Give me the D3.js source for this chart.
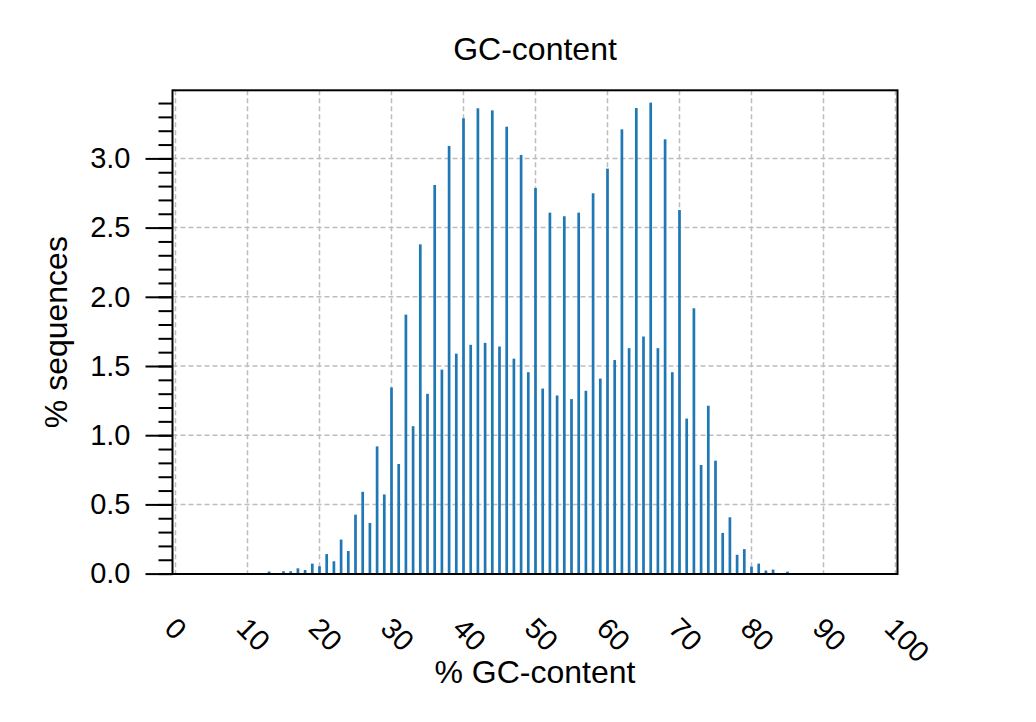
<!doctype html>
<html>
  <head>
    <script src="https://cdnjs.cloudflare.com/ajax/libs/d3/7.8.5/d3.min.js"></script>
    <style>
      body { margin: 0; background: #fff; }
      text { font-family: "Liberation Sans", Arial, Helvetica, sans-serif; fill: #000; }
      line.grid {
        stroke: #bdbdbd;
        stroke-width: 1.5;
        stroke-dasharray: 5 3;
      }
      rect.bar { fill: #1f77b4; }
      rect.frame {
        fill: none;
        stroke: #000;
        stroke-width: 2;
      }
      .axis path { display: none; }
      .axis line { stroke: #000; stroke-width: 2; }
    </style>
  </head>
  <body>
    <svg width="1036" height="722"></svg>
    <script>
      // % GC-content bins and % of sequences in each bin
      var gcBins = [13, 14, 15, 16, 17, 18, 19, 20, 21, 22, 23, 24, 25, 26, 27, 28, 29,
        30, 31, 32, 33, 34, 35, 36, 37, 38, 39, 40, 41, 42, 43, 44, 45, 46, 47, 48, 49,
        50, 51, 52, 53, 54, 55, 56, 57, 58, 59, 60, 61, 62, 63, 64, 65, 66, 67, 68, 69,
        70, 71, 72, 73, 74, 75, 76, 77, 78, 79, 80, 81, 82, 83, 84, 85];
      var seqPercent = [0.015, 0, 0.017, 0.017, 0.038, 0.026, 0.072, 0.053, 0.141, 0.089, 0.246, 0.163, 0.426, 0.591, 0.366, 0.919, 0.572,
        1.345, 0.792, 1.871, 1.065, 2.379, 1.299, 2.808, 1.474, 3.090, 1.589, 3.290, 1.653, 3.362, 1.667, 3.347, 1.641, 3.229, 1.553, 3.025, 1.455,
        2.786, 1.337, 2.608, 1.287, 2.582, 1.261, 2.608, 1.321, 2.748, 1.409, 2.926, 1.543, 3.210, 1.629, 3.364, 1.713, 3.403, 1.629, 3.138, 1.455,
        2.627, 1.120, 1.917, 0.785, 1.213, 0.816, 0.294, 0.407, 0.136, 0.177, 0.050, 0.072, 0.022, 0.029, 0, 0.014];

      var xTicks = [0, 10, 20, 30, 40, 50, 60, 70, 80, 90, 100];
      var yTicks = [0.0, 0.5, 1.0, 1.5, 2.0, 2.5, 3.0];
      var yMinorTicks = d3.range(0, 35).map(d => d / 10);

      drawChart();

      function drawChart() {
        var svg = d3.select("svg");

        var x = d3.scaleLinear().domain([0, 100]).range([175.5, 895.5]);
        var y = d3.scaleLinear().domain([0, 3.5]).range([573.6, 89.2]);

        var frameLeft = 172.5, frameRight = 897.5, frameTop = 90.3, frameBottom = 574;

        // grid
        svg.selectAll("line.gridx").data(xTicks)
          .enter().append("line")
            .attr("class", "grid")
            .attr("x1", d => x(d)).attr("x2", d => x(d))
            .attr("y1", frameTop).attr("y2", frameBottom);

        svg.selectAll("line.gridy").data(yTicks.slice(1))
          .enter().append("line")
            .attr("class", "grid")
            .attr("x1", frameLeft).attr("x2", frameRight)
            .attr("y1", d => y(d)).attr("y2", d => y(d));

        // bars
        var data = gcBins.map((d, i) => ({ gc: d, pct: seqPercent[i] }));
        svg.selectAll("rect.bar").data(data.filter(d => d.pct > 0))
          .enter().append("rect")
            .attr("class", "bar")
            .attr("x", d => x(d.gc) - 1.35)
            .attr("width", 2.7)
            .attr("y", d => y(d.pct))
            .attr("height", d => y(0) - y(d.pct));

        // y axis: minor then major ticks
        svg.append("g")
          .attr("class", "axis")
          .attr("transform", "translate(" + frameLeft + ",0)")
          .call(d3.axisLeft(y).tickValues(yMinorTicks).tickSize(14).tickFormat(""));

        svg.append("g")
          .attr("class", "axis")
          .attr("transform", "translate(" + frameLeft + ",0)")
          .call(d3.axisLeft(y).tickValues(yTicks).tickSize(27).tickPadding(15).tickFormat(d3.format(".1f")))
          .selectAll("text")
            .style("font-size", "29px");

        svg.append("rect")
          .attr("class", "frame")
          .attr("x", frameLeft).attr("y", frameTop)
          .attr("width", frameRight - frameLeft).attr("height", frameBottom - frameTop);

        // x tick labels, rotated
        svg.selectAll("text.xtick").data(xTicks)
          .enter().append("text")
            .attr("class", "xtick")
            .attr("transform", d => "translate(" + (x(d) - 12.5) + ",630) rotate(45)")
            .style("font-size", "29px")
            .text(d => d);

        svg.append("text")
          .attr("x", (frameLeft + frameRight) / 2).attr("y", 60)
          .attr("text-anchor", "middle")
          .style("font-size", "32px")
          .text("GC-content");

        svg.append("text")
          .attr("x", (frameLeft + frameRight) / 2).attr("y", 683)
          .attr("text-anchor", "middle")
          .style("font-size", "32px")
          .text("% GC-content");

        svg.append("text")
          .attr("transform", "translate(67," + (frameTop + frameBottom) / 2 + ") rotate(-90)")
          .attr("text-anchor", "middle")
          .style("font-size", "32px")
          .text("% sequences");
      }
    </script>
  </body>
</html>
